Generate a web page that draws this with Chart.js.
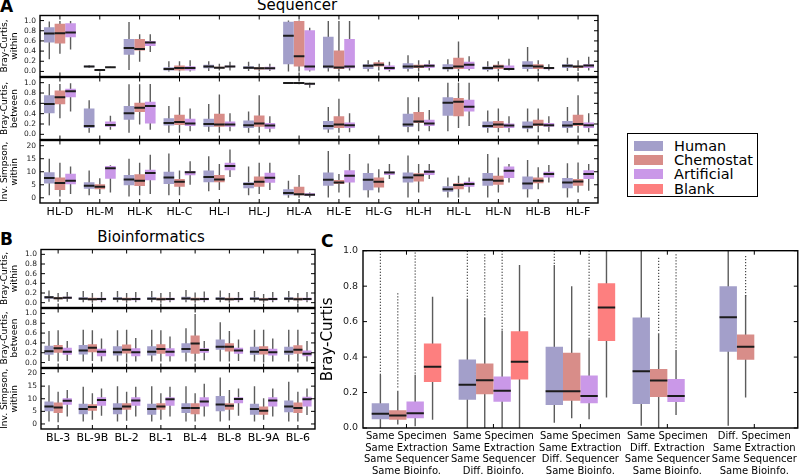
<!DOCTYPE html>
<html>
<head>
<meta charset="utf-8">
<script src="https://cdn.jsdelivr.net/npm/chart.js@4.4.1/dist/chart.umd.min.js"></script>
<style>
  body { margin: 0; background: #fff; }
  #wrap { position: relative; width: 800px; height: 475px; overflow: hidden; font-family: "DejaVu Sans", sans-serif; }
  #wrap canvas { position: absolute; }
  .t { position: absolute; white-space: nowrap; line-height: 1; color: #000; }
  .panel { font-weight: bold; font-size: 17px; }
  .ttl { font-size: 15px; transform: translateX(-50%); }
  #legend { position: absolute; left: 627px; top: 133px; width: 129px; height: 62px; border: 1px solid #000; }
  #legend div { position: absolute; left: 46px; font-size: 14.5px; line-height: 1; }
  #legend span { position: absolute; left: -40px; top: 2px; width: 29px; height: 10px; }
</style>
</head>
<body>
<div id="wrap">
  <div class="t panel" style="left:0px;top:-2px">A</div>
  <div class="t panel" style="left:0px;top:231px">B</div>
  <div class="t panel" style="left:321px;top:233px">C</div>
  <div class="t ttl" style="left:297px;top:-2px">Sequencer</div>
  <div class="t ttl" style="left:151px;top:230px">Bioinformatics</div>
  <div id="legend"></div>
</div>
<script>
Chart.defaults.font.family = "DejaVu Sans";

const seriesNames = ["Human", "Chemostat", "Artificial", "Blank"];
const seriesColors = ["#a39fca", "#d88d89", "#ca98e8", "#fd7f7f"];

const seqGroups = ["HL-D", "HL-M", "HL-K", "HL-C", "HL-I", "HL-J", "HL-A", "HL-E", "HL-G", "HL-H", "HL-L", "HL-N", "HL-B", "HL-F"];
const bioGroups = ["BL-3", "BL-9B", "BL-2", "BL-1", "BL-4", "BL-8", "BL-9A", "BL-6"];
const levelGroups = [
  ["Same Specimen", "Same Extraction", "Same Sequencer", "Same Bioinfo."],
  ["Same Specimen", "Same Extraction", "Same Sequencer", "Diff. Bioinfo."],
  ["Same Specimen", "Same Extraction", "Diff. Sequencer", "Same Bioinfo."],
  ["Same Specimen", "Diff. Extraction", "Same Sequencer", "Same Bioinfo."],
  ["Diff. Specimen", "Same Extraction", "Same Sequencer", "Same Bioinfo."]
];

const brayTicks = [0, 0.2, 0.4, 0.6, 0.8, 1.0];
const simpsonTicks = [0, 5, 10, 15, 20];

// every box: [low whisker, q1, median, q3, high whisker]
const seqWithinHuman = [[0.24,0.57,0.745,0.87,0.98],[0.07,0.08,0.095,0.11,0.12],[0.03,0.33,0.46,0.64,0.97],[0,0.02,0.05,0.08,0.2],[0.01,0.06,0.095,0.13,0.2],[0.01,0.05,0.07,0.1,0.19],[0,0.14,0.7,0.975,1.0],[0,0.06,0.095,0.68,0.99],[0,0.05,0.11,0.14,0.22],[0,0.05,0.095,0.16,0.32],[0,0.04,0.065,0.14,0.24],[0,0.03,0.065,0.095,0.2],[0,0.05,0.11,0.2,0.48],[0.01,0.065,0.11,0.14,0.27]];
const seqWithinChemo = [[0.35,0.55,0.75,0.94,0.99],[0,0.02,0.03,0.04,0.05],[0.19,0.41,0.44,0.64,0.73],[0,0.02,0.065,0.115,0.2],[0.02,0.06,0.07,0.09,0.15],[0,0.04,0.06,0.08,0.15],[0,0.095,0.3,0.99,1.0],[0,0.05,0.075,0.41,0.99],[0.02,0.095,0.13,0.18,0.22],[0,0.065,0.095,0.13,0.22],[0,0.05,0.095,0.27,0.59],[0,0.05,0.095,0.13,0.2],[0,0.05,0.095,0.14,0.22],[0.01,0.065,0.095,0.11,0.22]];
const seqWithinArt = [[0.43,0.67,0.765,0.95,0.99],[0.07,0.075,0.08,0.085,0.09],[0.38,0.5,0.57,0.6,0.73],[0,0.02,0.065,0.1,0.22],[0.02,0.08,0.095,0.11,0.19],[0.01,0.04,0.06,0.09,0.15],[0,0.02,0.095,0.81,0.86],[0.02,0.06,0.095,0.64,0.99],[0,0.03,0.065,0.115,0.19],[0.02,0.065,0.11,0.14,0.22],[0.02,0.05,0.13,0.19,0.3],[0.02,0.03,0.05,0.115,0.25],[0.02,0.045,0.065,0.075,0.14],[0.02,0.065,0.115,0.14,0.29]];

const seqBetweenHuman = [[0.17,0.41,0.585,0.755,0.975],[0.03,0.125,0.16,0.5,0.66],[0.03,0.28,0.41,0.55,0.97],[0.03,0.17,0.22,0.31,0.55],[0.05,0.145,0.2,0.3,0.585],[0.03,0.125,0.175,0.27,0.44],[0.99,0.99,0.995,1.0,1.0],[0.03,0.095,0.16,0.26,0.53],null,[0.04,0.14,0.19,0.4,0.72],[0.06,0.36,0.61,0.72,1.0],[0.03,0.125,0.16,0.25,0.46],[0.04,0.11,0.145,0.25,0.5],[0.03,0.125,0.17,0.26,0.53]];
const seqBetweenChemo = [[0.31,0.58,0.72,0.85,0.975],null,[0.19,0.43,0.515,0.61,0.97],[0.03,0.18,0.24,0.38,0.72],[0.03,0.145,0.19,0.4,0.77],[0.03,0.145,0.21,0.365,0.755],[0.97,0.99,0.995,1.0,1.0],[0.03,0.125,0.19,0.35,0.69],null,[0.06,0.22,0.25,0.43,0.72],[0.125,0.35,0.63,0.705,1.0],[0.04,0.125,0.19,0.26,0.5],[0.04,0.16,0.19,0.28,0.5],[0.03,0.16,0.2,0.38,0.755]];
const seqBetweenArt = [[0.44,0.72,0.835,0.88,0.99],[0.09,0.145,0.18,0.25,0.36],[0.09,0.21,0.55,0.63,0.975],[0.06,0.16,0.21,0.3,0.5],[0.06,0.145,0.19,0.25,0.41],[0.04,0.11,0.17,0.22,0.35],[0.9,0.965,0.98,0.99,1.0],[0.04,0.125,0.175,0.23,0.41],null,[0.06,0.16,0.21,0.28,0.47],[0.16,0.44,0.535,0.67,1.0],[0.04,0.125,0.17,0.21,0.35],[0.05,0.145,0.175,0.22,0.35],[0.04,0.125,0.175,0.23,0.41]];

const seqSimpsonHuman = [[1,5.5,7.6,9.8,15],[1,3.5,4.6,6,10.5],[0.5,4.8,7,8.8,15],[1,5.3,7.8,10,17],[2.5,6,8,10.5,16],[1,3.7,5.3,6,12],[0,1,1.8,3.3,6.5],[0.1,4.6,6.9,9.7,18],[0.1,2.9,6.9,9.5,13.2],[0.1,5.9,7.8,9.7,16.2],[0.1,2.3,3.3,4.4,7.8],[0.1,4.6,6.9,9.5,16.8],[0.1,3.3,5.5,8.2,14.5],[0.1,3.7,5.9,7.6,13.3]];
const seqSimpsonChemo = [[0.5,3,5.7,7.8,13.5],[1.5,3.3,4.2,5.2,7.5],[1,4.5,6.5,9,13.5],[1,4.2,6.2,7.2,10.5],[3,6,7,8.8,13],[1.5,4.2,6.2,8.2,13.5],[0,1,1.4,4.2,8.8],[2,5.3,5.9,6.8,9.1],[2,4,6.2,7.8,11],[2,6.3,8.7,9.4,13],[0.1,3.3,4.9,5.6,8.5],[2,5,6.5,8.5,15.5],[3.3,5.6,6.5,7.8,11.7],[2,4.6,6.3,7.2,13.6]];
const seqSimpsonArt = [[1.5,5.2,6.5,9.2,12],[2,7.3,11.3,12.2,12.5],[1.5,6.7,9.5,10.8,16.5],[5,8.7,9.8,10.3,14],[8,10.6,12.2,13.5,18.5],[3,5.8,7.7,9.6,13.5],[0.1,0.8,1.2,1.7,2],[0.1,5.9,8.5,10.6,16.8],[7.2,8.8,9.7,10.1,13],[7.2,8.8,10,10.6,13],[2,4.2,5.3,6.2,7.8],[5.9,7.6,10.4,12,13],[5.9,7.8,9.1,10,12.6],[2.7,7.2,9.1,10.6,13]];

const bioWithinHuman = [[0.02,0.08,0.11,0.14,0.25],[0.01,0.06,0.08,0.11,0.24],[0.01,0.06,0.08,0.11,0.24],[0.01,0.06,0.08,0.11,0.24],[0.01,0.06,0.085,0.12,0.26],[0.01,0.06,0.08,0.11,0.25],[0.01,0.06,0.08,0.11,0.24],[0.01,0.06,0.08,0.11,0.24]];
const bioWithinChemo = [[0.02,0.07,0.09,0.11,0.2],[0,0.05,0.07,0.1,0.2],[0,0.05,0.07,0.1,0.2],[0,0.05,0.07,0.1,0.2],[0,0.05,0.07,0.1,0.21],[0,0.05,0.07,0.1,0.2],[0,0.05,0.065,0.09,0.18],[0,0.05,0.07,0.1,0.2]];
const bioWithinArt = [[0.02,0.08,0.1,0.12,0.22],[0.01,0.05,0.075,0.1,0.22],[0.01,0.05,0.075,0.1,0.22],[0.01,0.05,0.075,0.1,0.22],[0.01,0.05,0.075,0.1,0.23],[0.01,0.05,0.075,0.1,0.22],[0.01,0.05,0.075,0.1,0.22],[0.01,0.05,0.075,0.1,0.22]];

const bioBetweenHuman = [[0.03,0.16,0.23,0.34,0.64],[0.02,0.165,0.245,0.36,0.67],[0.02,0.145,0.21,0.33,0.66],[0.02,0.145,0.22,0.33,0.67],[0.02,0.2,0.275,0.395,0.7],[0.02,0.26,0.32,0.47,0.82],[0.02,0.16,0.22,0.32,0.67],[0.02,0.16,0.22,0.32,0.67]];
const bioBetweenChemo = [[0.02,0.2,0.29,0.36,0.66],[0.03,0.21,0.3,0.375,0.66],[0,0.185,0.26,0.37,0.67],[0.02,0.18,0.275,0.375,0.66],[0.02,0.18,0.39,0.55,0.99],[0.02,0.225,0.32,0.395,0.64],[0,0.165,0.255,0.33,0.67],[0.02,0.18,0.26,0.355,0.67]];
const bioBetweenArt = [[0.03,0.16,0.22,0.3,0.44],[0.02,0.13,0.22,0.28,0.49],[0.02,0.13,0.21,0.29,0.5],[0.02,0.13,0.22,0.29,0.53],[0.05,0.2,0.255,0.29,0.44],[0.03,0.18,0.245,0.3,0.47],[0.02,0.145,0.21,0.28,0.49],[0.02,0.13,0.18,0.245,0.44]];

const bioSimpsonHuman = [[1,5,6.9,8.9,15.4],[1,3.9,5.9,8,14.8],[1,3.9,6,8.2,15],[1,3.7,5.9,8,15],[1,4.3,6.3,8.2,15],[1,5,7.7,11.1,18.4],[1,3.7,5.9,8,15],[1,4.6,6.9,9.3,16.7]];
const bioSimpsonChemo = [[0.7,4.3,6.5,8.5,12.8],[1.7,5.2,6.7,7.8,12.2],[1.3,5.6,6.9,8.2,12.8],[1.7,5.6,6.9,8.2,12.2],[1,3.9,6.3,8.2,12.2],[1.4,5.6,7.2,8.2,13.5],[1.7,3.7,5.2,6.9,10.2],[1,4.3,6.3,8.5,12.8]];
const bioSimpsonArt = [[3,7.6,9.2,10.2,13.5],[3.3,7.2,9.5,10.6,14.1],[3,7.2,9.3,10.6,14.8],[3,7.2,9.8,10.6,14.8],[3,6.9,8.9,10.6,16],[3.3,8.2,9.9,10.6,14.1],[3,6.9,9.3,10.6,14.1],[3.6,6.9,9.8,10.8,14.1]];

const levelHuman = [[0,0.05,0.08,0.139,0.3],[0,0.16,0.244,0.386,0.73],[0.03,0.13,0.207,0.458,0.92],[0.013,0.135,0.32,0.623,1.0],[0.013,0.43,0.625,0.8,1.0]];
const levelChemo = [[0.02,0.046,0.07,0.1,0.21],[0,0.19,0.27,0.364,0.62],[0.055,0.153,0.207,0.425,0.8],[0,0.175,0.268,0.333,0.535],[0.172,0.385,0.458,0.527,0.75]];
const levelArt = [[0.01,0.055,0.083,0.15,0.3],[0,0.148,0.21,0.29,0.55],[0.05,0.139,0.18,0.296,0.5],[0.074,0.146,0.18,0.277,0.44],null];
const levelBlank = [[0.046,0.26,0.345,0.477,0.74],[0,0.274,0.373,0.545,0.92],[0.172,0.49,0.68,0.817,1.0],null,null];
// outlier spans [lowest, highest] drawn as dots
const levelHumanFliers = [[0.3,1.0],[0.73,1.0],[0.92,1.0],null,null];
const levelChemoFliers = [[0.22,0.76],[0.62,0.98],null,[0.54,0.96],[0.75,0.97]];
const levelArtFliers = [[0.3,0.99],[0.55,1.0],[0.5,1.0],[0.44,0.98],null];
const levelBlankFliers = [null,null,null,null,null];

const wrap = document.getElementById("wrap");

// medians + outlier dots, placed on the bar elements the library laid out
const boxExtras = {
  id: "boxExtras",
  afterDatasetsDraw(chart) {
    const { ctx, chartArea: a, scales: { y } } = chart;
    ctx.save();
    ctx.beginPath();
    ctx.rect(a.left, a.top - 1, a.right - a.left, a.bottom - a.top + 2);
    ctx.clip();
    chart.data.datasets.forEach((ds, i) => {
      if (!ds.stats) return;
      chart.getDatasetMeta(i).data.forEach((el, j) => {
        const s = ds.stats[j];
        if (!s) return;
        const f = ds.fliers && ds.fliers[j];
        if (f) {
          ctx.fillStyle = "#444";
          for (let p = y.getPixelForValue(f[1]); p <= y.getPixelForValue(f[0]); p += 3) {
            ctx.fillRect(el.x - 0.6, p, 1.2, 1.2);
          }
        }
        const py = y.getPixelForValue(s[2]);
        ctx.strokeStyle = "#1c1c1c";
        ctx.lineWidth = 2;
        ctx.beginPath();
        ctx.moveTo(el.x - el.width / 2, py);
        ctx.lineTo(el.x + el.width / 2, py);
        ctx.stroke();
      });
    });
    ctx.restore();
  }
};

// matplotlib style frame with inward ticks
const frame = {
  id: "frame",
  afterDraw(chart) {
    const { ctx, chartArea: a, scales: { x, y } } = chart;
    ctx.save();
    ctx.strokeStyle = "#000";
    ctx.lineWidth = 1;
    ctx.beginPath();
    y.ticks.forEach(t => {
      const p = y.getPixelForValue(t.value);
      ctx.moveTo(a.left, p); ctx.lineTo(a.left + 4, p);
      ctx.moveTo(a.right, p); ctx.lineTo(a.right - 4, p);
    });
    chart.data.labels.forEach((l, i) => {
      const p = x.getPixelForValue(i);
      ctx.moveTo(p, a.top); ctx.lineTo(p, a.top + 4);
      ctx.moveTo(p, a.bottom); ctx.lineTo(p, a.bottom - 4);
    });
    ctx.stroke();
    ctx.lineWidth = 1.4;
    ctx.strokeRect(a.left, a.top, a.right - a.left, a.bottom - a.top);
    ctx.restore();
  }
};

function boxChart(cfg) {
  const pad = 8, padR = 2;
  const c = document.createElement("canvas");
  c.width = cfg.area.r - cfg.area.l + cfg.yW + padR;
  c.height = pad + (cfg.area.b - cfg.area.t) + (cfg.xH || pad);
  c.style.left = (cfg.area.l - cfg.yW) + "px";
  c.style.top = (cfg.area.t - pad) + "px";
  wrap.appendChild(c);

  const chunk = (cfg.area.r - cfg.area.l) / cfg.labels.length * 0.8 / cfg.series.length;
  const datasets = [];
  cfg.series.forEach((s, k) => datasets.push({
    label: seriesNames[k],
    data: s.map(v => v ? [v[1], v[3]] : null),
    stats: s,
    fliers: cfg.fliers ? cfg.fliers[k] : null,
    backgroundColor: seriesColors[k],
    stack: seriesNames[k],
    order: 0,
    categoryPercentage: 0.8,
    barPercentage: 1
  }));
  cfg.series.forEach((s, k) => datasets.push({
    label: seriesNames[k] + " whiskers",
    data: s.map(v => v ? [v[0], v[4]] : null),
    backgroundColor: "#5c5c5c",
    stack: seriesNames[k],
    order: 1,
    categoryPercentage: 0.8,
    barPercentage: 1.4 / chunk
  }));

  new Chart(c, {
    type: "bar",
    data: { labels: cfg.labels, datasets },
    options: {
      responsive: false,
      animation: false,
      layout: { padding: { top: pad, right: padR, bottom: cfg.xH ? 0 : pad, left: 0 } },
      plugins: { legend: { display: false }, tooltip: { enabled: false } },
      scales: {
        x: {
          type: "category",
          offset: true,
          display: !!cfg.xH,
          grid: { display: false, drawTicks: false },
          border: { display: false },
          ticks: { font: { size: cfg.xFont, lineHeight: 1.15 }, color: "#000", padding: 3, maxRotation: 0, autoSkip: false },
          afterFit: s => { s.height = cfg.xH || 0; }
        },
        y: {
          min: cfg.yMin,
          max: cfg.yMax,
          stacked: false,
          afterBuildTicks: s => { s.ticks = cfg.yTicks.map(v => ({ value: v })); },
          grid: { display: false, drawTicks: false },
          border: { display: false },
          ticks: { font: { size: cfg.yFont }, color: "#222", padding: cfg.yPad, autoSkip: false, callback: cfg.fmt },
          title: { display: true, text: cfg.yTitle, font: { size: cfg.titleFont, lineHeight: 1.1 }, color: "#000", padding: { top: cfg.titlePad, bottom: 0 } },
          afterFit: s => { s.width = cfg.yW; }
        }
      }
    },
    plugins: [boxExtras, frame]
  });
}

const oneDecimal = v => v.toFixed(1);
const whole = v => String(v);
const small = { yFont: 7.5, yPad: 4, titleFont: 9, titlePad: 0 };

// panel A: sequencer
boxChart({ ...small, labels: seqGroups, series: [seqWithinHuman, seqWithinChemo, seqWithinArt], area: { l: 40, r: 598, t: 15, b: 77 }, yW: 40,
  yMin: -0.1, yMax: 1.1, yTicks: brayTicks, fmt: oneDecimal, yTitle: ["Bray-Curtis,", "within"] });
boxChart({ ...small, labels: seqGroups, series: [seqBetweenHuman, seqBetweenChemo, seqBetweenArt], area: { l: 40, r: 598, t: 77, b: 140 }, yW: 40,
  yMin: -0.1, yMax: 1.1, yTicks: brayTicks, fmt: oneDecimal, yTitle: ["Bray-Curtis,", "between"] });
boxChart({ ...small, labels: seqGroups, series: [seqSimpsonHuman, seqSimpsonChemo, seqSimpsonArt], area: { l: 40, r: 598, t: 140, b: 203 }, yW: 40,
  xH: 22, xFont: 11, yMin: -2, yMax: 22, yTicks: simpsonTicks, fmt: whole, yTitle: ["Inv. Simpson,", "within"] });

// panel B: bioinformatics
boxChart({ ...small, labels: bioGroups, series: [bioWithinHuman, bioWithinChemo, bioWithinArt], area: { l: 41, r: 315, t: 249, b: 308 }, yW: 41,
  yMin: -0.1, yMax: 1.1, yTicks: brayTicks, fmt: oneDecimal, yTitle: ["Bray-Curtis,", "within"] });
boxChart({ ...small, labels: bioGroups, series: [bioBetweenHuman, bioBetweenChemo, bioBetweenArt], area: { l: 41, r: 315, t: 308, b: 368 }, yW: 41,
  yMin: -0.1, yMax: 1.1, yTicks: brayTicks, fmt: oneDecimal, yTitle: ["Bray-Curtis,", "between"] });
boxChart({ ...small, labels: bioGroups, series: [bioSimpsonHuman, bioSimpsonChemo, bioSimpsonArt], area: { l: 41, r: 315, t: 368, b: 429 }, yW: 41,
  xH: 30, xFont: 11, yMin: -2, yMax: 22, yTicks: simpsonTicks, fmt: whole, yTitle: ["Inv. Simpson,", "within"] });

// panel C: level of difference
boxChart({ labels: levelGroups, series: [levelHuman, levelChemo, levelArt, levelBlank],
  fliers: [levelHumanFliers, levelChemoFliers, levelArtFliers, levelBlankFliers],
  area: { l: 363, r: 798, t: 248, b: 428 }, yW: 45, xH: 47, xFont: 10,
  yFont: 9.5, yPad: 5, titleFont: 15, titlePad: 2,
  yMin: 0, yMax: 1.0, yTicks: brayTicks, fmt: oneDecimal, yTitle: "Bray-Curtis" });

// legend
const legend = document.getElementById("legend");
seriesNames.forEach((name, k) => {
  const row = document.createElement("div");
  row.style.top = (5 + k * 14.2) + "px";
  row.innerHTML = '<span style="background:' + seriesColors[k] + '"></span>' + name;
  legend.appendChild(row);
});
</script>
</body>
</html>
